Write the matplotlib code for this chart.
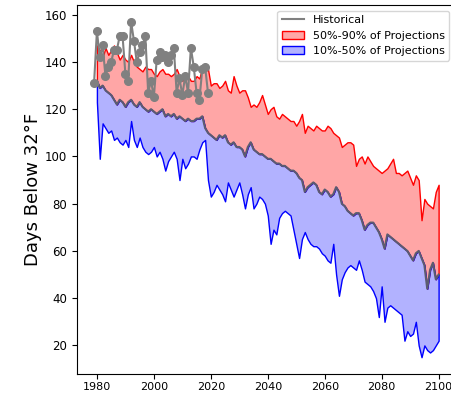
import numpy as np
import matplotlib
matplotlib.use("Agg")
import matplotlib.pyplot as plt
from matplotlib.lines import Line2D
from matplotlib.patches import Patch

# observed days below 32F, 1979-2019
hist_years = list(range(1979, 2020))
hist_days = [131, 153, 142, 147, 134, 138, 140, 145, 145, 151,
             151, 135, 132, 157, 149, 140, 144, 147, 151, 127,
             132, 125, 141, 144, 142, 143, 140, 143, 146, 127,
             133, 126, 134, 127, 146, 138, 127, 124, 137, 138,
             127]

# projection percentiles, 1980-2100
proj_years = list(range(1980, 2101))
p90 = [147, 145, 142, 146, 143, 145, 147, 144, 141, 143,
       141, 140, 143, 140, 138, 137, 136, 138, 137, 137,
       135, 134, 136, 137, 135, 135, 134, 135, 137, 134,
       132, 134, 134, 132, 132, 134, 133, 138, 136, 137,
       130, 131, 131, 129, 130, 132, 128, 127, 134, 130,
       127, 128, 128, 125, 121, 122, 121, 123, 126, 122,
       118, 120, 121, 117, 116, 118, 117, 116, 115, 115,
       113, 115, 118, 110, 113, 112, 111, 113, 112, 111,
       111, 113, 112, 110, 109, 108, 104, 105, 106, 106,
       105, 96, 99, 100, 97, 100, 98, 96, 95, 94,
       93, 94, 95, 97, 99, 93, 93, 92, 93, 94,
       91, 88, 92, 90, 73, 82, 80, 79, 78, 85,
       88]
p50 = [132, 129, 130, 128, 127, 126, 124, 122, 124, 123,
       121, 123, 124, 122, 121, 123, 121, 120, 119, 120,
       119, 118, 119, 120, 117, 118, 117, 118, 116, 117,
       116, 115, 116, 115, 115, 116, 116, 117, 112, 110,
       109, 108, 107, 109, 108, 109, 106, 105, 106, 104,
       104, 103, 100, 104, 106, 103, 102, 101, 101, 100,
       99, 99, 98, 97, 97, 96, 96, 95, 94, 94,
       93, 91, 90, 85, 87, 88, 89, 88, 85, 84,
       86, 85, 83, 84, 87, 85, 80, 79, 77, 76,
       75, 76, 76, 73, 69, 71, 72, 72, 70, 68,
       65, 61, 67, 66, 65, 64, 63, 62, 61, 60,
       58, 56, 59, 60, 57, 54, 44, 52, 55, 48,
       50]
p10 = [123, 99, 114, 112, 110, 111, 107, 108, 106, 105,
       107, 104, 115, 107, 104, 108, 104, 102, 101, 102,
       104, 100, 102, 99, 94, 98, 100, 102, 99, 90,
       99, 95, 97, 100, 100, 99, 103, 106, 107, 90,
       83, 85, 88, 86, 84, 81, 89, 86, 83, 86,
       89, 84, 78, 84, 87, 78, 80, 83, 82, 80,
       75, 63, 69, 67, 74, 76, 77, 76, 75, 69,
       63, 57, 65, 68, 65, 63, 62, 62, 61, 59,
       58, 56, 55, 63, 50, 41, 48, 51, 53, 54,
       53, 52, 56, 52, 47, 46, 45, 43, 40, 32,
       45, 30, 36, 37, 36, 35, 34, 33, 22, 26,
       24, 25, 30, 20, 15, 20, 18, 17, 18, 20,
       22]

fig = plt.figure(figsize=(4.52, 3.95), dpi=100)
ax = fig.add_axes([0.170, 0.0532, 0.8385, 0.9341])

ax.fill_between(proj_years, p50, p90, facecolor=(1, 0, 0, 0.35),
                edgecolor="red", linewidth=1)
ax.fill_between(proj_years, p10, p50, facecolor=(0, 0, 1, 0.3),
                edgecolor="blue", linewidth=1)
ax.plot(proj_years, p50, color="#5c5c70", linewidth=1.5)
ax.plot(hist_years, hist_days, color="gray", linewidth=1.5,
        marker="o", markersize=5.5)

ax.set_ylabel("Days Below 32°F", fontsize=13, labelpad=2)
ax.tick_params(axis="y", labelsize=8.5)
ax.tick_params(axis="x", labelsize=8, pad=2)
ax.set_xticks([1980, 2000, 2020, 2040, 2060, 2080, 2100])
ax.set_yticks([20, 40, 60, 80, 100, 120, 140, 160])

handles = [Line2D([0], [0], color="gray", linewidth=1.5),
           Patch(facecolor=(1, 0, 0, 0.35), edgecolor="red"),
           Patch(facecolor=(0, 0, 1, 0.3), edgecolor="blue")]
labels = ["Historical", "50%-90% of Projections", "10%-50% of Projections"]
fig.legend(handles, labels, loc="upper right", fontsize=8,
           bbox_to_anchor=(455 / 452, 1 - 5 / 395))

fig.savefig("out.png", dpi=100)
